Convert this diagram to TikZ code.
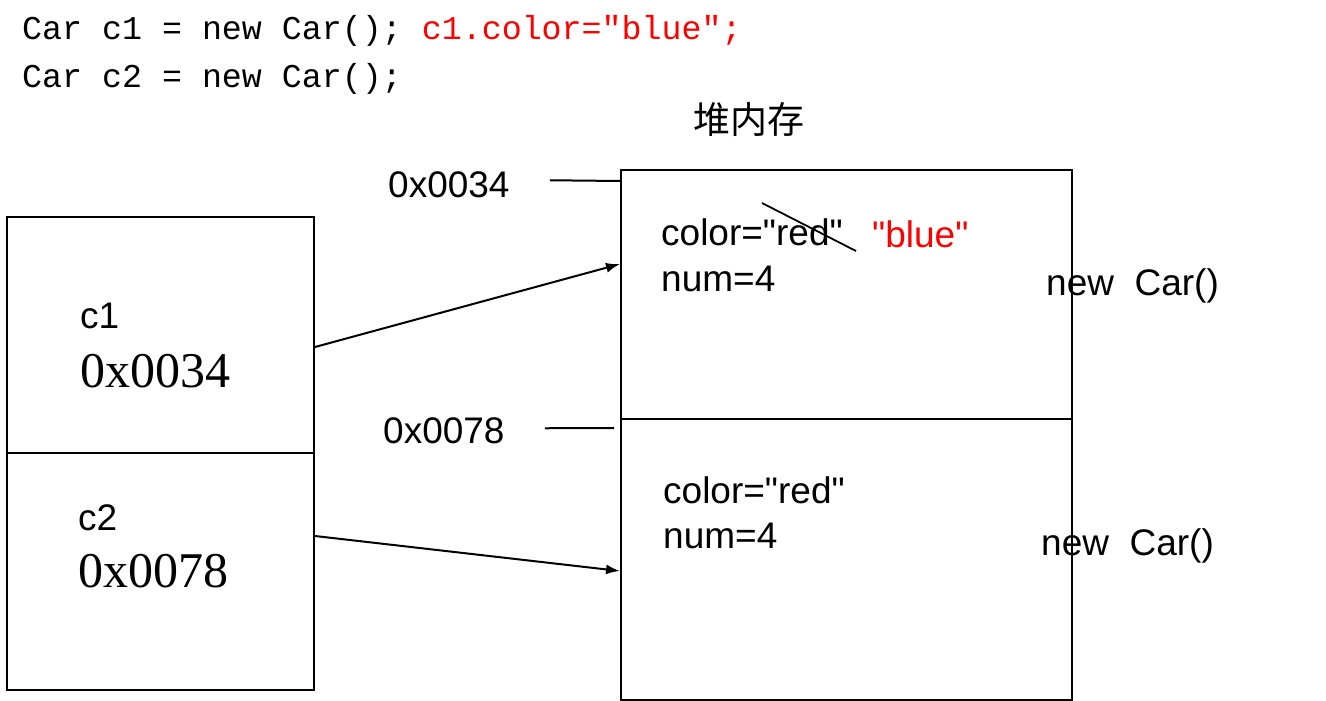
\documentclass[tikz,border=0pt]{standalone}
\usepackage{fontspec}
\usepackage{xcolor}
\newfontfamily\arial{Liberation Sans}
\newfontfamily\tms{Liberation Serif}
\newfontfamily\mono{Liberation Mono}
\newfontfamily\cjk{Noto Sans CJK SC}
\usetikzlibrary{arrows.meta}
\definecolor{codered}{RGB}{255,0,0}
\begin{document}
\begin{tikzpicture}[x=1pt,y=-1pt,
  cell/.style={draw=black,line width=2pt,inner sep=0pt,anchor=north west},
  lbl/.style={inner sep=0pt,anchor=base west,font=\arial\fontsize{37}{44}\selectfont},
  addr/.style={inner sep=0pt,anchor=base west,font=\tms\fontsize{50}{60}\selectfont},
  code/.style={inner sep=0pt,anchor=base west,font=\mono\fontsize{33.3}{40}\selectfont},
  link/.style={line width=2pt},
  ptr/.style={line width=2pt,-{Latex[length=14pt,width=10pt]}}]
\useasboundingbox (0,0) rectangle (1326,701);
\fill[white] (0,0) rectangle (1326,701);
% code
\node[code] (code1) at (22,40) {Car c1 = new Car(); \textcolor{codered}{c1.color="blue";}};
\node[code] (code2) at (22,88) {Car c2 = new Car();};
% title
\node[inner sep=0pt,font=\cjk\fontsize{37}{44}\selectfont] (heaptitle) at (749,119) {堆内存};
% stack cells
\node[cell,minimum width=307pt,minimum height=236pt] (c1cell) at (6,216) {};
\node[cell,minimum width=307pt,minimum height=237pt] (c2cell) at (6,452) {};
\node[lbl] (c1name) at (80,328) {c1};
\node[addr] (c1addr) at (80,387) {0x0034};
\node[lbl] (c2name) at (78,530) {c2};
\node[addr] (c2addr) at (78,587) {0x0078};
% heap cells
\node[cell,minimum width=451pt,minimum height=249pt] (heap1) at (620,169) {};
\node[cell,minimum width=451pt,minimum height=281pt] (heap2) at (620,418) {};
% heap contents
\node[lbl] (col1) at (661,245) {color="red"};
\node[lbl] (num1) at (661,291) {num=4};
\node[lbl,text=codered] (blue) at (872,247) {"blue"};
\node[lbl] (new1) at (1046,295) {new\ \ Car()};
\node[lbl] (col2) at (663,503) {color="red"};
\node[lbl] (num2) at (663,548) {num=4};
\node[lbl] (new2) at (1041,555) {new\ \ Car()};
% strike-through
\coordinate (s1) at (762,203);
\coordinate (s2) at (856,251);
\draw[line width=1.8pt] (s1) -- (s2);
% address labels
\node[lbl] (lab1) at (388,197) {0x0034};
\node[lbl] (lab2) at (383,443) {0x0078};
\coordinate (lab2end) at (614,428);
\draw[link] ([xshift=40pt,yshift=4pt]lab1.east) -- ([yshift=-12pt]heap1.north west);
\draw[link] ([xshift=40pt,yshift=2pt]lab2.east) -- (lab2end);
% pointers
\draw[ptr] ([yshift=-12pt]c1cell.east) -- ([yshift=30.5pt]heap1.west);
\draw[ptr] ([yshift=35.5pt]c2cell.east) -- ([yshift=-11.5pt]heap2.west);
\end{tikzpicture}
\end{document}
